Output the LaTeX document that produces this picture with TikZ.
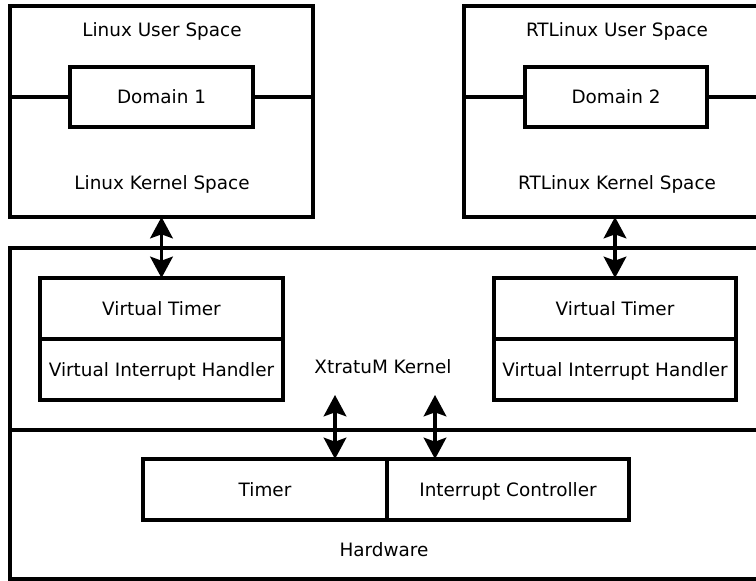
\documentclass[tikz,border=0pt]{standalone}
\usepackage{fontspec}
\setmainfont{DejaVu Sans}
\usetikzlibrary{arrows.meta}
\begin{document}
\begin{tikzpicture}[x=0.75pt,y=-0.75pt,
  box/.style={draw,line width=2.3pt,rectangle,inner sep=0pt,outer sep=0pt,
    text height=10pt,text depth=0pt,font=\fontsize{13.8}{16}\selectfont},
  label/.style={inner sep=0pt,text height=10pt,text depth=0pt,font=\fontsize{13.8}{16}\selectfont},
  darrow/.style={line width=2.3pt,{Stealth[length=16pt,width=17pt,inset=3pt]}-{Stealth[length=16pt,width=17pt,inset=3pt]}}]
\clip (0,0) rectangle (756,581);
\fill[white] (0,0) rectangle (756,581);
% top spaces
\node[box,minimum width=303*0.75pt,minimum height=211*0.75pt] (linux) at (161.5,111.5) {};
\node[box,minimum width=306*0.75pt,minimum height=211*0.75pt] (rtlinux) at (617,111.5) {};
\node[label] (linuxuser) at (162,30) {Linux User Space};
\node[label] (linuxkernel) at (162,182.5) {Linux Kernel Space};
\node[label] (rtuser) at (617,30) {RTLinux User Space};
\node[label] (rtkernel) at (617,182.5) {RTLinux Kernel Space};
\node[box,minimum width=183*0.75pt,minimum height=60*0.75pt] (dom1) at (161.5,97) {Domain 1};
\node[box,minimum width=182*0.75pt,minimum height=60*0.75pt] (dom2) at (616,97) {Domain 2};
\draw[line width=2.3pt] (linux.west |- dom1) -- (dom1.west);
\draw[line width=2.3pt] (dom1.east) -- (linux.east |- dom1);
\draw[line width=2.3pt] (rtlinux.west |- dom2) -- (dom2.west);
\draw[line width=2.3pt] (dom2.east) -- (rtlinux.east |- dom2);
% xtratum
\node[box,minimum width=760*0.75pt,minimum height=182*0.75pt] (xm) at (390,339) {};
\node[label] (xmlabel) at (383,366.5) {XtratuM Kernel};
\node[box,minimum width=243*0.75pt,minimum height=61*0.75pt] (vt1) at (161.5,308.5) {Virtual Timer};
\node[box,minimum width=243*0.75pt,minimum height=61*0.75pt,anchor=north] (vih1) at (vt1.south) {Virtual Interrupt Handler};
\node[box,minimum width=242*0.75pt,minimum height=61*0.75pt] (vt2) at (615,308.5) {Virtual Timer};
\node[box,minimum width=242*0.75pt,minimum height=61*0.75pt,anchor=north] (vih2) at (vt2.south) {Virtual Interrupt Handler};
% hardware
\node[box,minimum width=760*0.75pt,minimum height=149*0.75pt] (hw) at (390,504.5) {};
\node[label] (hwlabel) at (384,550) {Hardware};
\node[box,minimum width=244*0.75pt,minimum height=61*0.75pt] (timer) at (265,489.5) {Timer};
\node[box,minimum width=242*0.75pt,minimum height=61*0.75pt,anchor=west] (ic) at (timer.east) {Interrupt Controller};
% arrows
\draw[darrow] (vt1.north) -- (vt1.north |- linux.south);
\draw[darrow] (vt2.north) -- (vt2.north |- rtlinux.south);
\coordinate (t1) at (335,395);
\coordinate (t2) at (435,395);
\draw[darrow] (t1) -- (t1 |- timer.north);
\draw[darrow] (t2) -- (t2 |- ic.north);
\end{tikzpicture}
\end{document}
